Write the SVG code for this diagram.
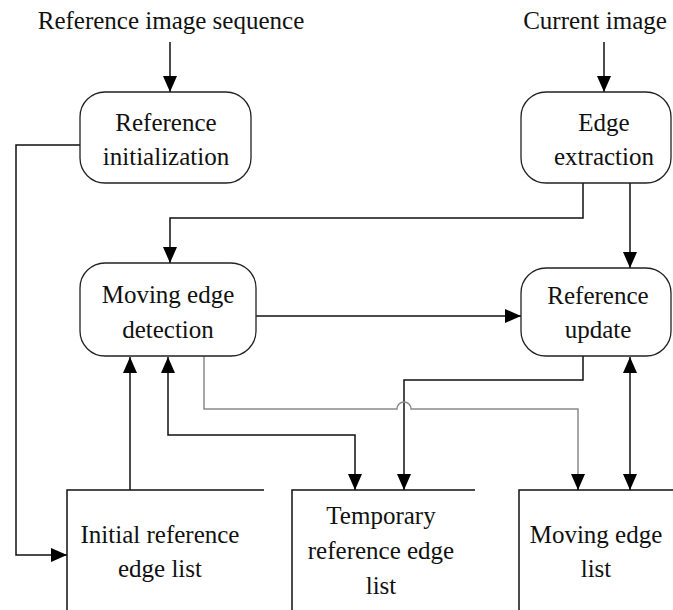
<svg xmlns="http://www.w3.org/2000/svg" width="673" height="610" viewBox="0 0 673 610">
<defs>
<marker id="ah" viewBox="0 0 16 14" refX="16" refY="7" markerWidth="16" markerHeight="14" markerUnits="userSpaceOnUse" orient="auto-start-reverse">
<path d="M0,0 L16,7 L0,14 z" fill="#000"/>
</marker>
<style>
.box{fill:#fff;stroke:#222;stroke-width:1.3}
.list{fill:none;stroke:#111;stroke-width:1.5}
.c{fill:none;stroke:#111;stroke-width:1.5}
.g{fill:none;stroke:#8a8a8a;stroke-width:1.5}
</style>
</defs>
<rect width="673" height="610" fill="#fff"/>
<text x="171" y="29" font-family="Liberation Serif" font-size="25" text-anchor="middle" fill="#111">Reference image sequence</text>
<text x="595" y="29" font-family="Liberation Serif" font-size="25" text-anchor="middle" fill="#111">Current image</text>
<g id="connectors">
<path class="c" d="M170,42 V92" marker-end="url(#ah)"/>
<path class="c" d="M604,42 V92" marker-end="url(#ah)"/>
<path class="c" d="M583,183 V218 H170 V263" marker-end="url(#ah)"/>
<path class="c" d="M630,183 V268" marker-end="url(#ah)"/>
<path class="c" d="M256,316 H521" marker-end="url(#ah)"/>
<path class="c" d="M80,145 H16 V555 H67" marker-end="url(#ah)"/>
<path class="c" d="M130,490 V357" marker-end="url(#ah)"/>
<path class="c" d="M355,490 V435 H168 V357" marker-start="url(#ah)" marker-end="url(#ah)"/>
<path class="c" d="M583,356 V380 H404 V490" marker-end="url(#ah)"/>
<path class="g" d="M204,356 V409 H397 A7,7 0 0 1 411,409 H578 V476"/>
<path class="c" d="M578,474 V490" marker-end="url(#ah)"/>
<path class="c" d="M630,357 V490" marker-start="url(#ah)" marker-end="url(#ah)"/>
</g>
<g id="ref-init">
<rect class="box" x="80" y="92" width="171" height="91" rx="25"/>
<text x="166" y="131" font-family="Liberation Serif" font-size="25" text-anchor="middle" fill="#111">Reference</text>
<text x="166" y="165" font-family="Liberation Serif" font-size="25" text-anchor="middle" fill="#111">initialization</text>
</g>
<g id="edge-extraction">
<rect class="box" x="521" y="92" width="150" height="91" rx="25"/>
<text x="604" y="131" font-family="Liberation Serif" font-size="25" text-anchor="middle" fill="#111">Edge</text>
<text x="604" y="165" font-family="Liberation Serif" font-size="25" text-anchor="middle" fill="#111">extraction</text>
</g>
<g id="moving-edge-detection">
<rect class="box" x="80" y="263" width="176" height="93" rx="25"/>
<text x="168" y="303" font-family="Liberation Serif" font-size="25" text-anchor="middle" fill="#111">Moving edge</text>
<text x="168" y="338" font-family="Liberation Serif" font-size="25" text-anchor="middle" fill="#111">detection</text>
</g>
<g id="reference-update">
<rect class="box" x="521" y="268" width="150" height="88" rx="25"/>
<text x="598" y="304" font-family="Liberation Serif" font-size="25" text-anchor="middle" fill="#111">Reference</text>
<text x="598" y="338" font-family="Liberation Serif" font-size="25" text-anchor="middle" fill="#111">update</text>
</g>
<g id="initial-list">
<path class="list" d="M264,490 H67 V610"/>
<text x="160" y="543" font-family="Liberation Serif" font-size="25" text-anchor="middle" fill="#111">Initial reference</text>
<text x="160" y="577" font-family="Liberation Serif" font-size="25" text-anchor="middle" fill="#111">edge list</text>
</g>
<g id="temporary-list">
<path class="list" d="M475,490 H292 V610"/>
<text x="381" y="524" font-family="Liberation Serif" font-size="25" text-anchor="middle" fill="#111">Temporary</text>
<text x="381" y="559" font-family="Liberation Serif" font-size="25" text-anchor="middle" fill="#111">reference edge</text>
<text x="381" y="594" font-family="Liberation Serif" font-size="25" text-anchor="middle" fill="#111">list</text>
</g>
<g id="moving-list">
<path class="list" d="M673,490 H519 V610"/>
<text x="596" y="543" font-family="Liberation Serif" font-size="25" text-anchor="middle" fill="#111">Moving edge</text>
<text x="596" y="577" font-family="Liberation Serif" font-size="25" text-anchor="middle" fill="#111">list</text>
</g>
</svg>
